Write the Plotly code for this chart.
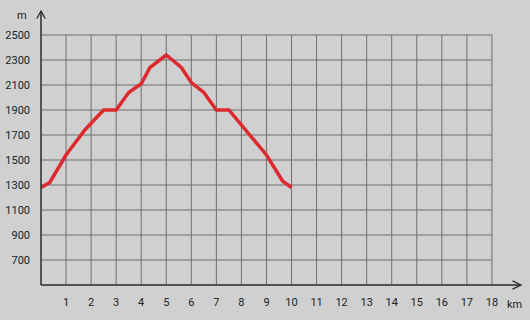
import plotly.graph_objects as go

# Data: elevation profile
distance_km = [0, 0.35, 1.0, 1.75, 2.5, 3.0, 3.5, 4.0, 4.35, 5.0, 5.6, 6.0, 6.5, 7.0, 7.5, 9.0, 9.65, 10.0]
elevation_m = [1280, 1320, 1540, 1740, 1900, 1900, 2040, 2110, 2240, 2340, 2240, 2120, 2040, 1900, 1900, 1540, 1330, 1280]

x_ticks = list(range(1, 19))
y_ticks = list(range(700, 2501, 200))

X_MIN, X_MAX = 0, 19.32
Y_MIN, Y_MAX = 500, 2740
PLOT_W, PLOT_H = 484, 280  # plot area in pixels
PX = 1 / PLOT_W            # paper units per pixel (x)
PY = 1 / PLOT_H            # paper units per pixel (y)

grid_color = "#6e6e6e"
axis_color = "#2a2a2a"
bg = "#d0d0d0"
font_family = "Roboto, Arial, sans-serif"

fig = go.Figure()
fig.add_trace(go.Scatter(
    x=distance_km, y=elevation_m, mode="lines",
    line=dict(color="#dc2a2e", width=3.5),
    hoverinfo="skip", showlegend=False,
))

shapes = []
# horizontal gridlines
for v in y_ticks:
    shapes.append(dict(type="line", xref="x", yref="y", x0=0, x1=x_ticks[-1], y0=v, y1=v,
                       line=dict(color=grid_color, width=1), layer="below"))
# vertical gridlines
for v in x_ticks:
    shapes.append(dict(type="line", xref="x", yref="y", x0=v, x1=v, y0=Y_MIN, y1=y_ticks[-1],
                       line=dict(color=grid_color, width=1), layer="below"))

# axes with arrows (paper coordinates, not clipped)
x_tip = 1 - 4 * PX
y_tip = 1 - 6 * PY
shapes += [
    dict(type="line", xref="paper", yref="paper", x0=0, x1=x_tip, y0=0, y1=0,
         line=dict(color=axis_color, width=1.5)),
    dict(type="path", xref="paper", yref="paper",
         path=f"M {x_tip - 8.5*PX},{4.2*PY} L {x_tip},0 L {x_tip - 8.5*PX},{-4.2*PY}",
         line=dict(color=axis_color, width=1.3)),
    dict(type="line", xref="paper", yref="paper", x0=0, x1=0, y0=0, y1=y_tip,
         line=dict(color=axis_color, width=1.5)),
    dict(type="path", xref="paper", yref="paper",
         path=f"M {-4.2*PX},{y_tip - 7.5*PY} L 0,{y_tip} L {4.2*PX},{y_tip - 7.5*PY}",
         line=dict(color=axis_color, width=1.3)),
]

annotations = [
    dict(text="km", xref="paper", yref="paper", x=1, y=0, xanchor="right", yanchor="top",
         xshift=-1, yshift=-11, showarrow=False, font=dict(size=11, color="#222", family=font_family)),
    dict(text="m", xref="paper", yref="paper", x=0, y=1, xanchor="center", yanchor="middle",
         xshift=-19, yshift=-10, showarrow=False, font=dict(size=11, color="#222", family=font_family)),
]

fig.update_layout(
    width=530, height=320,
    margin=dict(l=41, r=5, t=5, b=35),
    paper_bgcolor=bg, plot_bgcolor=bg,
    shapes=shapes, annotations=annotations,
    font=dict(family=font_family, size=11, color="#222"),
    xaxis=dict(range=[X_MIN, X_MAX], tickvals=x_ticks, ticktext=[str(v) for v in x_ticks],
               showgrid=False, zeroline=False, showline=False, ticks="", ticklabelstandoff=9,
               fixedrange=True),
    yaxis=dict(range=[Y_MIN, Y_MAX], tickvals=y_ticks, ticktext=[str(v) for v in y_ticks],
               showgrid=False, zeroline=False, showline=False, ticks="", ticklabelstandoff=10,
               fixedrange=True),
)

fig.write_html("out.html")
